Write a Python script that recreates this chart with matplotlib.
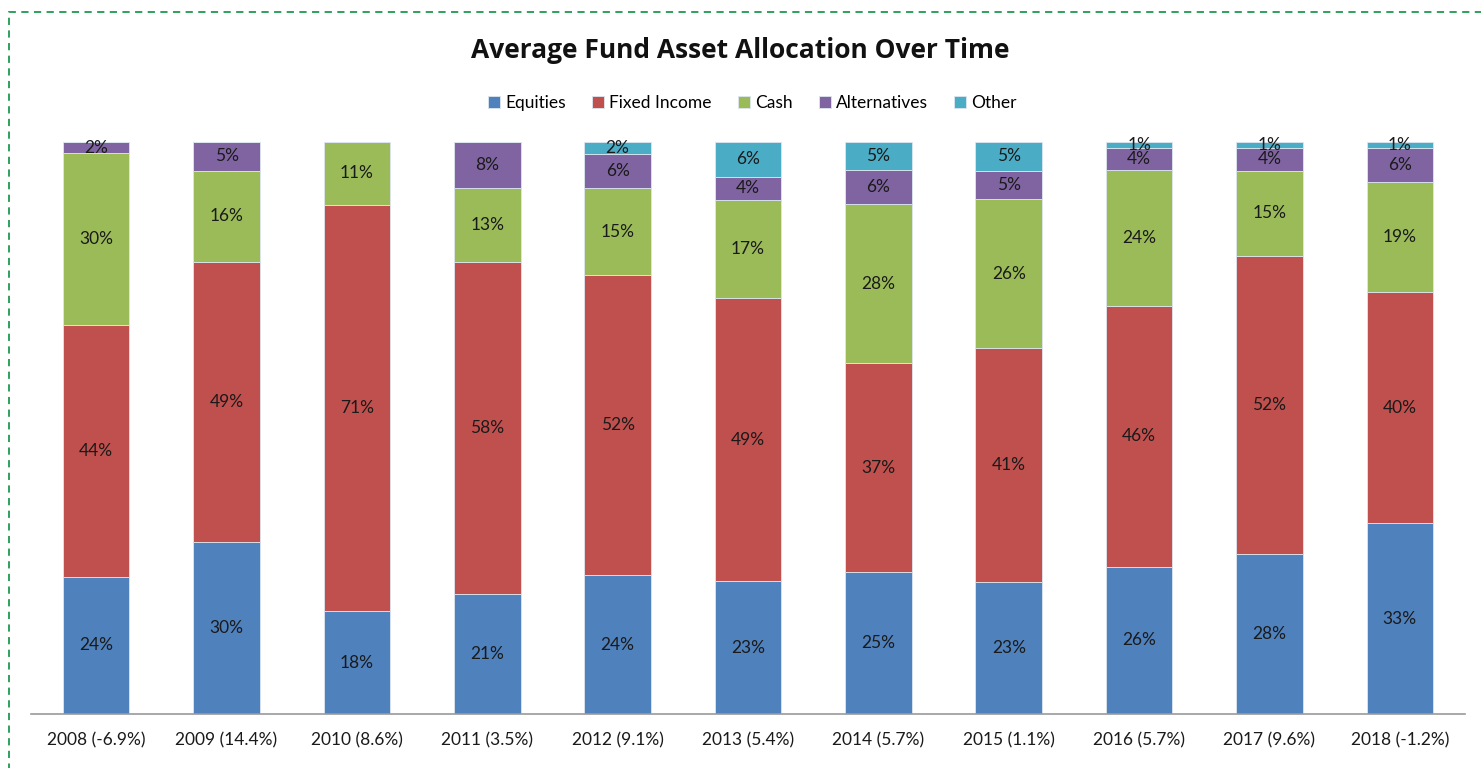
import matplotlib
matplotlib.use("Agg")
import matplotlib.pyplot as plt
from matplotlib.patches import Rectangle
import numpy as np

categories = ["2008 (-6.9%)", "2009 (14.4%)", "2010 (8.6%)", "2011 (3.5%)", "2012 (9.1%)",
              "2013 (5.4%)", "2014 (5.7%)", "2015 (1.1%)", "2016 (5.7%)", "2017 (9.6%)",
              "2018 (-1.2%)"]
equities = [24, 30, 18, 21, 24, 23, 25, 23, 26, 28, 33]
fixed_income = [44, 49, 71, 58, 52, 49, 37, 41, 46, 52, 40]
cash = [30, 16, 11, 13, 15, 17, 28, 26, 24, 15, 19]
alternatives = [2, 5, 0, 8, 6, 4, 6, 5, 4, 4, 6]
other = [0, 0, 0, 0, 2, 6, 5, 5, 1, 1, 1]

series_names = ["Equities", "Fixed Income", "Cash", "Alternatives", "Other"]
series = [equities, fixed_income, cash, alternatives, other]
colors = ["#4F81BD", "#C0504D", "#9BBB59", "#8064A2", "#4BACC6"]

plt.rcParams['font.family'] = ['Lato', 'DejaVu Sans']

fig = plt.figure(figsize=(14.81, 7.68), dpi=100)
ax = fig.add_axes([31/1481, 54/768, 1434/1481, 572/768])

data = np.array(series, dtype=float)
totals = data.sum(axis=0)
x = np.arange(len(categories))
bottom = np.zeros(len(categories))
for name, vals, col in zip(series_names, data, colors):
    h = vals / totals * 100
    ax.bar(x, h, width=0.51, bottom=bottom, color=col, edgecolor="#dde6f0",
           linewidth=0.6, label=name)
    for xi, bi, hi, v in zip(x, bottom, h, vals):
        if v > 0:
            ax.text(xi, bi + hi / 2, f"{int(v)}%", ha="center", va="center",
                    fontsize=12.5, color="#1a1a1a")
    bottom += h

ax.set_xlim(-0.5, len(categories) - 0.5)
ax.set_ylim(0, 100)
ax.set_xticks(x)
ax.set_xticklabels(categories, fontsize=12.5, color="#1a1a1a")
ax.tick_params(axis="x", length=0, pad=13)
ax.set_yticks([])
for s in ["top", "left", "right"]:
    ax.spines[s].set_visible(False)
ax.spines["bottom"].set_color("#9a9a9a")
ax.spines["bottom"].set_linewidth(1.2)

fig.text(0.5, 1 - 51/768, "Average Fund Asset Allocation Over Time", ha="center",
         va="center", fontsize=19, fontweight="bold", color="#111111",
         family=["Open Sans", "DejaVu Sans"])

fig.legend(loc="center", bbox_to_anchor=(0.508, 1 - 103/768), ncol=5, frameon=False,
           fontsize=12.5, handlelength=0.7, handleheight=0.7, handletextpad=0.3,
           columnspacing=1.5)

frame = Rectangle((9/1481, -0.1), 1.2, (768 - 12)/768 + 0.1, transform=fig.transFigure,
                  fill=False, edgecolor="#1e9a50", linestyle=(0, (4, 3)), linewidth=1.3,
                  clip_on=False)
fig.patches.append(frame)

fig.savefig("out.png", dpi=100)
